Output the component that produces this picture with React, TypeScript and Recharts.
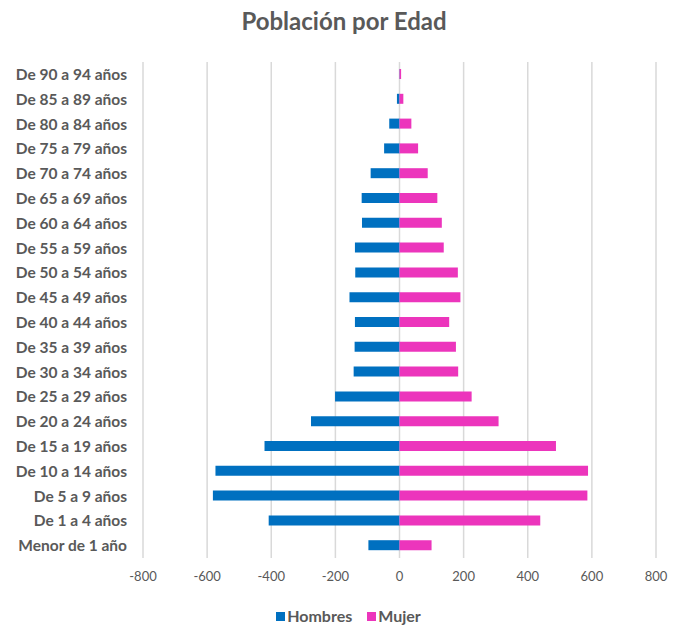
import React from "react";
import {
  BarChart,
  Bar,
  XAxis,
  YAxis,
  CartesianGrid,
  Legend,
} from "recharts";

const ageGroups = [
  "De 90 a 94 años",
  "De 85 a 89 años",
  "De 80 a 84 años",
  "De 75 a 79 años",
  "De 70 a 74 años",
  "De 65 a 69 años",
  "De 60 a 64 años",
  "De 55 a 59 años",
  "De 50 a 54 años",
  "De 45 a 49 años",
  "De 40 a 44 años",
  "De 35 a 39 años",
  "De 30 a 34 años",
  "De 25 a 29 años",
  "De 20 a 24 años",
  "De 15 a 19 años",
  "De 10 a 14 años",
  "De 5 a 9 años",
  "De 1 a 4 años",
  "Menor de 1 año",
];

const hombres = [
  -1, -8, -32, -48, -90, -118, -117, -139, -138, -156, -139, -140, -143, -201,
  -276, -421, -574, -582, -408, -97,
];

const mujer = [
  5, 12, 37, 58, 88, 118, 132, 138, 182, 190, 155, 176, 183, 225, 309, 488, 588,
  586, 439, 100,
];

const xTicks = [-800, -600, -400, -200, 0, 200, 400, 600, 800];

const data = ageGroups.map((age, i) => ({
  age,
  Hombres: hombres[i],
  Mujer: mujer[i],
}));

const BLUE = "#0070C0";
const PINK = "#EC35BC";
const TEXT = "#595959";
const FONT = "Lato, 'Open Sans', sans-serif";

const LegendContent = () => (
  <div
    style={{
      display: "flex",
      justifyContent: "center",
      alignItems: "center",
      fontFamily: FONT,
      fontWeight: 700,
      fontSize: 16,
      color: TEXT,
      lineHeight: "16px",
      paddingLeft: 24,
    }}
  >
    <span style={{ display: "flex", alignItems: "center", marginRight: 15 }}>
      <span
        style={{
          width: 9,
          height: 9,
          background: BLUE,
          display: "inline-block",
          marginRight: 2,
        }}
      />
      Hombres
    </span>
    <span style={{ display: "flex", alignItems: "center" }}>
      <span
        style={{
          width: 9,
          height: 9,
          background: PINK,
          display: "inline-block",
          marginRight: 2,
        }}
      />
      Mujer
    </span>
  </div>
);

export default function App() {
  return (
    <div
      style={{
        position: "absolute",
        left: 0,
        top: 0,
        width: 673,
        height: 626,
        background: "#fff",
      }}
    >
      <div
        style={{
          position: "absolute",
          top: 6,
          left: 0,
          width: 688,
          textAlign: "center",
          fontFamily: FONT,
          fontWeight: 700,
          fontSize: 24,
          lineHeight: "30px",
          color: TEXT,
        }}
      >
        Población por Edad
      </div>
      <BarChart
        width={673}
        height={626}
        data={data}
        layout="vertical"
        stackOffset="sign"
        margin={{ top: 62, right: 17, bottom: 48, left: 0 }}
      >
        <CartesianGrid
          horizontal={false}
          stroke="#d9d9d9"
          strokeWidth={1.5}
        />
        <XAxis
          type="number"
          domain={[-800, 800]}
          ticks={xTicks}
          axisLine={false}
          tickLine={false}
          tickMargin={8}
          height={20}
          tick={{ fill: TEXT, fontSize: 13, fontFamily: FONT }}
        />
        <YAxis
          type="category"
          dataKey="age"
          width={143}
          axisLine={false}
          tickLine={false}
          tickMargin={10}
          interval={0}
          tick={{ fill: TEXT, fontSize: 15.5, fontWeight: 700, fontFamily: FONT }}
        />
        <Legend
          layout="horizontal"
          verticalAlign="middle"
          align="center"
          wrapperStyle={{ top: 608, left: 0, width: 673 }}
          content={<LegendContent />}
        />
        <Bar
          dataKey="Hombres"
          stackId="a"
          fill={BLUE}
          barSize={10}
          isAnimationActive={false}
        />
        <Bar
          dataKey="Mujer"
          stackId="a"
          fill={PINK}
          barSize={10}
          isAnimationActive={false}
        />
      </BarChart>
    </div>
  );
}
